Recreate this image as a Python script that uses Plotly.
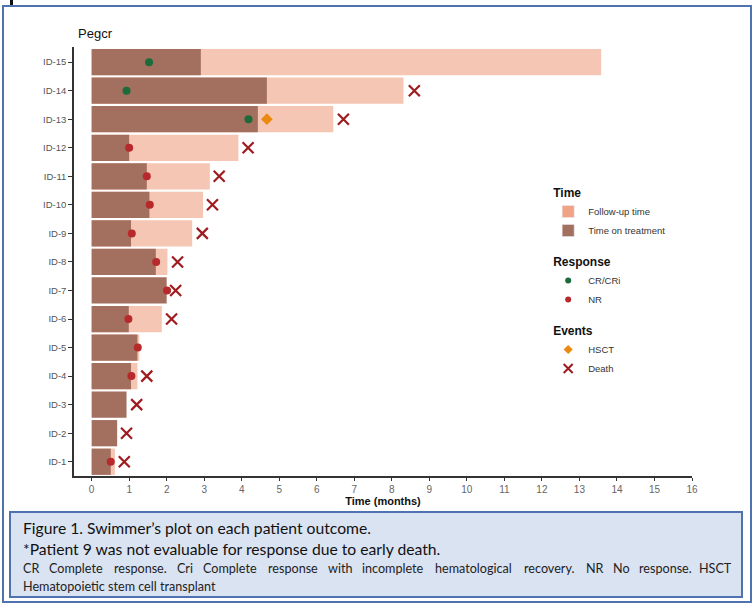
import plotly.graph_objects as go

# ---------------- data ----------------
patients = ["ID-1", "ID-2", "ID-3", "ID-4", "ID-5", "ID-6", "ID-7", "ID-8",
            "ID-9", "ID-10", "ID-11", "ID-12", "ID-13", "ID-14", "ID-15"]
time_on_treatment = [0.51, 0.68, 0.93, 1.05, 1.22, 0.99, 2.00, 1.71,
                     1.05, 1.54, 1.47, 1.00, 4.43, 4.67, 2.91]
follow_up_time = [0.62, None, None, 1.22, 1.27, 1.87, None, 2.02,
                  2.68, 2.97, 3.15, 3.91, 6.44, 8.31, 13.58]
response_type = ["NR", None, None, "NR", "NR", "NR", "NR", "NR",
                 "NR", "NR", "NR", "NR", "CR/CRi", "CR/CRi", "CR/CRi"]
response_time = [0.51, None, None, 1.06, 1.23, 0.98, 2.01, 1.72,
                 1.07, 1.55, 1.47, 1.00, 4.18, 0.93, 1.53]
hsct_time = [None, None, None, None, None, None, None, None,
             None, None, None, None, 4.67, None, None]
death_time = [0.87, 0.93, 1.20, 1.47, None, 2.13, 2.24, 2.29,
              2.95, 3.22, 3.40, 4.17, 6.71, 8.60, None]
x_ticks = list(range(0, 17))

# ---------------- styles ----------------
C_FOLLOW_BAR = "#f6c6b4"
C_FOLLOW_LEG = "#f1a386"
C_TREAT = "#a36f5e"
C_CR = "#1d6a3a"
C_NR = "#b8292c"
C_HSCT = "#ea8a10"
C_DEATH = "#9e1c1f"
BLUE = "#4f72b0"

# plot-area pixel geometry
L, R, T, B = 74, 692, 47, 476
W, H = 753, 604


def px(x):
    return (x - L) / (R - L)


def py(y):
    return (B - y) / (B - T)


fig = go.Figure()

# follow-up (light) bars
fu_y = [p for p, f in zip(patients, follow_up_time) if f is not None]
fu_x = [f for f in follow_up_time if f is not None]
fig.add_trace(go.Bar(x=fu_x, y=fu_y, orientation="h", width=0.92,
                     marker=dict(color=C_FOLLOW_BAR, line=dict(width=0)),
                     showlegend=False, hoverinfo="skip"))
# treatment (dark) bars
fig.add_trace(go.Bar(x=time_on_treatment, y=patients, orientation="h", width=0.92,
                     marker=dict(color=C_TREAT, line=dict(width=0)),
                     showlegend=False, hoverinfo="skip"))


def pick(times, cond=None):
    xs, ys = [], []
    for i, t in enumerate(times):
        if t is None:
            continue
        if cond is not None and not cond(i):
            continue
        xs.append(t)
        ys.append(patients[i])
    return xs, ys


# response markers
for label, col in [("CR/CRi", C_CR), ("NR", C_NR)]:
    xs, ys = pick(response_time, lambda i, l=label: response_type[i] == l)
    fig.add_trace(go.Scatter(x=xs, y=ys, mode="markers",
                             marker=dict(symbol="circle", size=8, color=col),
                             showlegend=False, hoverinfo="skip"))
# HSCT
xs, ys = pick(hsct_time)
fig.add_trace(go.Scatter(x=xs, y=ys, mode="markers",
                         marker=dict(symbol="diamond", size=9, color=C_HSCT),
                         showlegend=False, hoverinfo="skip"))
# death
xs, ys = pick(death_time)
fig.add_trace(go.Scatter(x=xs, y=ys, mode="markers",
                         marker=dict(symbol="x-thin", size=11, color=C_DEATH,
                                     line=dict(width=2.2, color=C_DEATH)),
                         showlegend=False, hoverinfo="skip"))

# ---------------- legend entries ----------------
gfont = dict(family="Liberation Sans, Arial", size=12, color="#111")
fig.add_trace(go.Bar(x=[None], y=[None], orientation="h", name="Follow-up time",
                     marker=dict(color=C_FOLLOW_LEG), legendgroup="time",
                     legendgrouptitle=dict(text="<b>Time</b>", font=gfont)))
fig.add_trace(go.Bar(x=[None], y=[None], orientation="h", name="Time on treatment",
                     marker=dict(color=C_TREAT), legendgroup="time"))
fig.add_trace(go.Scatter(x=[None], y=[None], mode="markers", name="CR/CRi",
                         marker=dict(symbol="circle", size=6, color=C_CR),
                         legendgroup="resp",
                         legendgrouptitle=dict(text="<b>Response</b>", font=gfont)))
fig.add_trace(go.Scatter(x=[None], y=[None], mode="markers", name="NR",
                         marker=dict(symbol="circle", size=6, color=C_NR),
                         legendgroup="resp"))
fig.add_trace(go.Scatter(x=[None], y=[None], mode="markers", name="HSCT",
                         marker=dict(symbol="diamond", size=7, color=C_HSCT),
                         legendgroup="ev",
                         legendgrouptitle=dict(text="<b>Events</b>", font=gfont)))
fig.add_trace(go.Scatter(x=[None], y=[None], mode="markers", name="Death",
                         marker=dict(symbol="x-thin", size=9, color=C_DEATH,
                                     line=dict(width=2, color=C_DEATH)),
                         legendgroup="ev"))

# ---------------- layout ----------------
fig.update_layout(
    width=W, height=H,
    margin=dict(l=L, r=W - R, t=T, b=H - B, pad=0, autoexpand=False),
    paper_bgcolor="white", plot_bgcolor="white",
    barmode="overlay", bargap=0.08,
    font=dict(family="Liberation Sans, Arial", size=10, color="#444"),
    legend=dict(xref="container", yref="container", x=0.728, y=1 - 178 / H,
                xanchor="left", yanchor="top", traceorder="grouped",
                tracegroupgap=12, font=dict(size=9.5, color="#333"),
                bgcolor="rgba(0,0,0,0)", itemsizing="trace"),
    xaxis=dict(range=[-0.47, 16.0], tickvals=x_ticks, ticktext=[str(v) for v in x_ticks],
               showline=True, linecolor="#333", linewidth=1.5,
               ticks="outside", ticklen=3, tickcolor="#333", tickwidth=1,
               showgrid=False, zeroline=False,
               tickfont=dict(size=10, color="#666"),
               title=dict(text="<b>Time (months)</b>", standoff=4,
                          font=dict(size=11, color="#111"))),
    yaxis=dict(type="category", categoryorder="array", categoryarray=patients,
               range=[-0.5, 14.53],
               showline=True, linecolor="#333", linewidth=1.5,
               ticks="outside", ticklen=4, tickcolor="#333", tickwidth=1,
               showgrid=False, zeroline=False,
               tickfont=dict(size=9.5, color="#555")),
)

shapes = []
# outer frame
shapes.append(dict(type="rect", xref="paper", yref="paper",
                   x0=px(3), x1=px(751), y0=py(6), y1=py(602),
                   line=dict(color=BLUE, width=2), fillcolor="rgba(0,0,0,0)", layer="below"))
# crop artefact at top left
shapes.append(dict(type="rect", xref="paper", yref="paper",
                   x0=px(10), x1=px(13), y0=py(0), y1=py(5),
                   line=dict(width=0), fillcolor="#111"))
# caption box
shapes.append(dict(type="rect", xref="paper", yref="paper",
                   x0=px(10), x1=px(742), y0=py(512), y1=py(597),
                   line=dict(color=BLUE, width=2), fillcolor="#dae3f2", layer="below"))
fig.update_layout(shapes=shapes)

ann = []
ann.append(dict(text="Pegcr", xref="paper", yref="paper", x=px(76), y=py(33),
                xanchor="left", yanchor="middle", showarrow=False,
                font=dict(family="Liberation Sans, Arial", size=13, color="#111")))
cap_font = "Lato, Open Sans, sans-serif"
ann.append(dict(text="Figure 1. Swimmer\u2019s plot on each patient outcome.",
                xref="paper", yref="paper", x=px(21), y=py(528),
                xanchor="left", yanchor="middle", showarrow=False,
                font=dict(family=cap_font, size=15.7, color="#111")))
ann.append(dict(text="*Patient 9 was not evaluable for response due to early death.",
                xref="paper", yref="paper", x=px(21), y=py(549),
                xanchor="left", yanchor="middle", showarrow=False,
                font=dict(family=cap_font, size=15.7, color="#111")))
# justified third line (approximate Lato advance widths, em units)
adv = {"a": .51, "b": .56, "c": .46, "d": .56, "e": .52, "g": .50, "h": .56, "i": .24,
       "l": .25, "m": .83, "n": .56, "o": .56, "p": .56, "r": .37, "s": .42, "t": .35,
       "v": .50, "w": .77, "y": .50, "C": .67, "R": .62, "N": .74, "H": .75, "S": .54,
       "T": .58, ".": .23}
cap_size = 12.6
words = ["CR", "Complete", "response.", "Cri", "Complete", "response", "with",
         "incomplete", "hematological", "recovery.", "NR", "No", "response.", "HSCT"]
widths = [sum(adv.get(ch, .55) for ch in w_) * cap_size * 1.05 for w_ in words]
x0, x1 = 21, 734
gap = (x1 - x0 - sum(widths)) / (len(words) - 1)
cur = x0
for i, w_ in enumerate(words):
    last = i == len(words) - 1
    ann.append(dict(text=w_, xref="paper", yref="paper",
                    x=px(x1 if last else cur), y=py(568),
                    xanchor="right" if last else "left", yanchor="middle", showarrow=False,
                    font=dict(family=cap_font, size=cap_size, color="#222")))
    cur += widths[i] + gap
ann.append(dict(text="Hematopoietic stem cell transplant",
                xref="paper", yref="paper", x=px(21), y=py(586),
                xanchor="left", yanchor="middle", showarrow=False,
                font=dict(family=cap_font, size=cap_size, color="#222")))
fig.update_layout(annotations=ann)

fig.write_html("out.html")
